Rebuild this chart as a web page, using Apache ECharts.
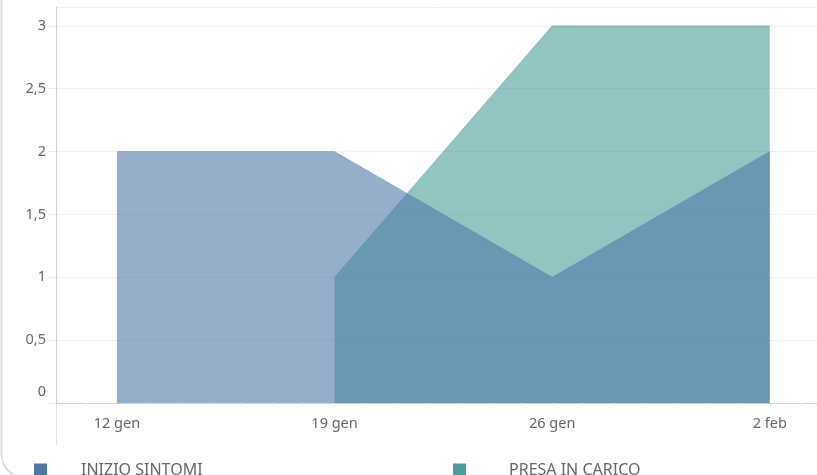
<!DOCTYPE html>
<html>
<head>
<meta charset="utf-8">
<script src="https://cdn.jsdelivr.net/npm/echarts@6.0.0/dist/echarts.min.js"></script>
<style>
html,body{margin:0;padding:0;background:#fff;}
#c{width:817px;height:475px;}
</style>
</head>
<body>
<div id="c"></div>
<script>
// ---- data ----
const categories = ['12 gen', '19 gen', '26 gen', '2 feb'];
const inizioSintomi = [2, 2, 1, 2];
const presaInCarico = [null, 1, 3, 3];
const seriesNames = ['INIZIO SINTOMI', 'PRESA IN CARICO'];
const yTicks = [0, 0.5, 1, 1.5, 2, 2.5, 3];

const blue = '#4e79a7';
const teal = '#4a9e9a';
const font = 'Noto Sans';

function toPairs(arr) {
  const out = [];
  arr.forEach((v, i) => { if (v !== null) out.push([i, v]); });
  return out;
}
// daily minor tick positions (weeks are 1 unit apart)
const dayTicks = [];
for (let d = -1; d <= 22; d++) dayTicks.push(d / 7);

const chart = echarts.init(document.getElementById('c'), null, {renderer: 'canvas'});
chart.setOption({
  animation: false,
  backgroundColor: '#fff',
  grid: {left: 56, right: 0, top: 7, bottom: 72},
  xAxis: {
    type: 'value',
    min: -0.28,
    max: 3.217,
    splitLine: {show: false},
    axisLine: {show: true, onZero: false, lineStyle: {color: '#d0d0d0', width: 1}},
    axisTick: {show: true, length: 3, customValues: dayTicks, lineStyle: {color: '#ececec'}},
    axisLabel: {
      customValues: [0, 1, 2, 3],
      formatter: v => categories[Math.round(v)],
      color: '#666', fontFamily: font, fontSize: 14.5, margin: 13
    }
  },
  yAxis: {
    type: 'value',
    min: 0,
    max: 3.15,
    interval: 0.5,
    axisLine: {show: true, onZero: false, lineStyle: {color: '#d0d0d0'}},
    axisTick: {show: true, length: 8, lineStyle: {color: '#ececec'}},
    splitLine: {show: true, lineStyle: {color: '#f0f0f0'}},
    axisLabel: {
      showMaxLabel: false,
      margin: 10,
      color: '#666', fontFamily: font, fontSize: 14.5,
      formatter: v => {
        if (yTicks.indexOf(v) < 0) return '';
        return v === 0 ? '{z|0}' : String(v).replace('.', ',');
      },
      rich: {z: {padding: [0, 0, 22, 0], color: '#666', fontFamily: font, fontSize: 14.5}}
    }
  },
  legend: [
    {data: [seriesNames[0]], left: 34, top: 462, padding: 0, icon: 'rect', itemWidth: 13, itemHeight: 13,
     textStyle: {color: '#666', fontFamily: font, fontSize: 16, padding: [0, 0, 0, 29]}},
    {data: [seriesNames[1]], left: 453, top: 462, padding: 0, icon: 'rect', itemWidth: 13, itemHeight: 13,
     textStyle: {color: '#666', fontFamily: font, fontSize: 16, padding: [0, 0, 0, 38]}}
  ],
  graphic: [
    {type: 'rect', shape: {x: 1.5, y: -40, width: 900, height: 518, r: 24}, style: {fill: 'none', stroke: '#dcdcdc', lineWidth: 2}, silent: true},
    {type: 'line', shape: {x1: 56, y1: 7.5, x2: 817, y2: 7.5}, style: {stroke: '#d0d0d0', lineWidth: 1}, silent: true},
    {type: 'line', shape: {x1: 56.5, y1: 403, x2: 56.5, y2: 445}, style: {stroke: '#e0e0e0', lineWidth: 1}, silent: true}
  ],
  series: [
    {
      name: seriesNames[1], type: 'line', z: 2, symbol: 'none',
      data: toPairs(presaInCarico),
      itemStyle: {color: teal},
      lineStyle: {color: teal, width: 1, opacity: 0.35},
      areaStyle: {color: teal, opacity: 0.6}
    },
    {
      name: seriesNames[0], type: 'line', z: 3, symbol: 'none',
      data: toPairs(inizioSintomi),
      itemStyle: {color: blue},
      lineStyle: {color: blue, width: 1, opacity: 0.35},
      areaStyle: {color: blue, opacity: 0.6}
    }
  ]
});
</script>
</body>
</html>
